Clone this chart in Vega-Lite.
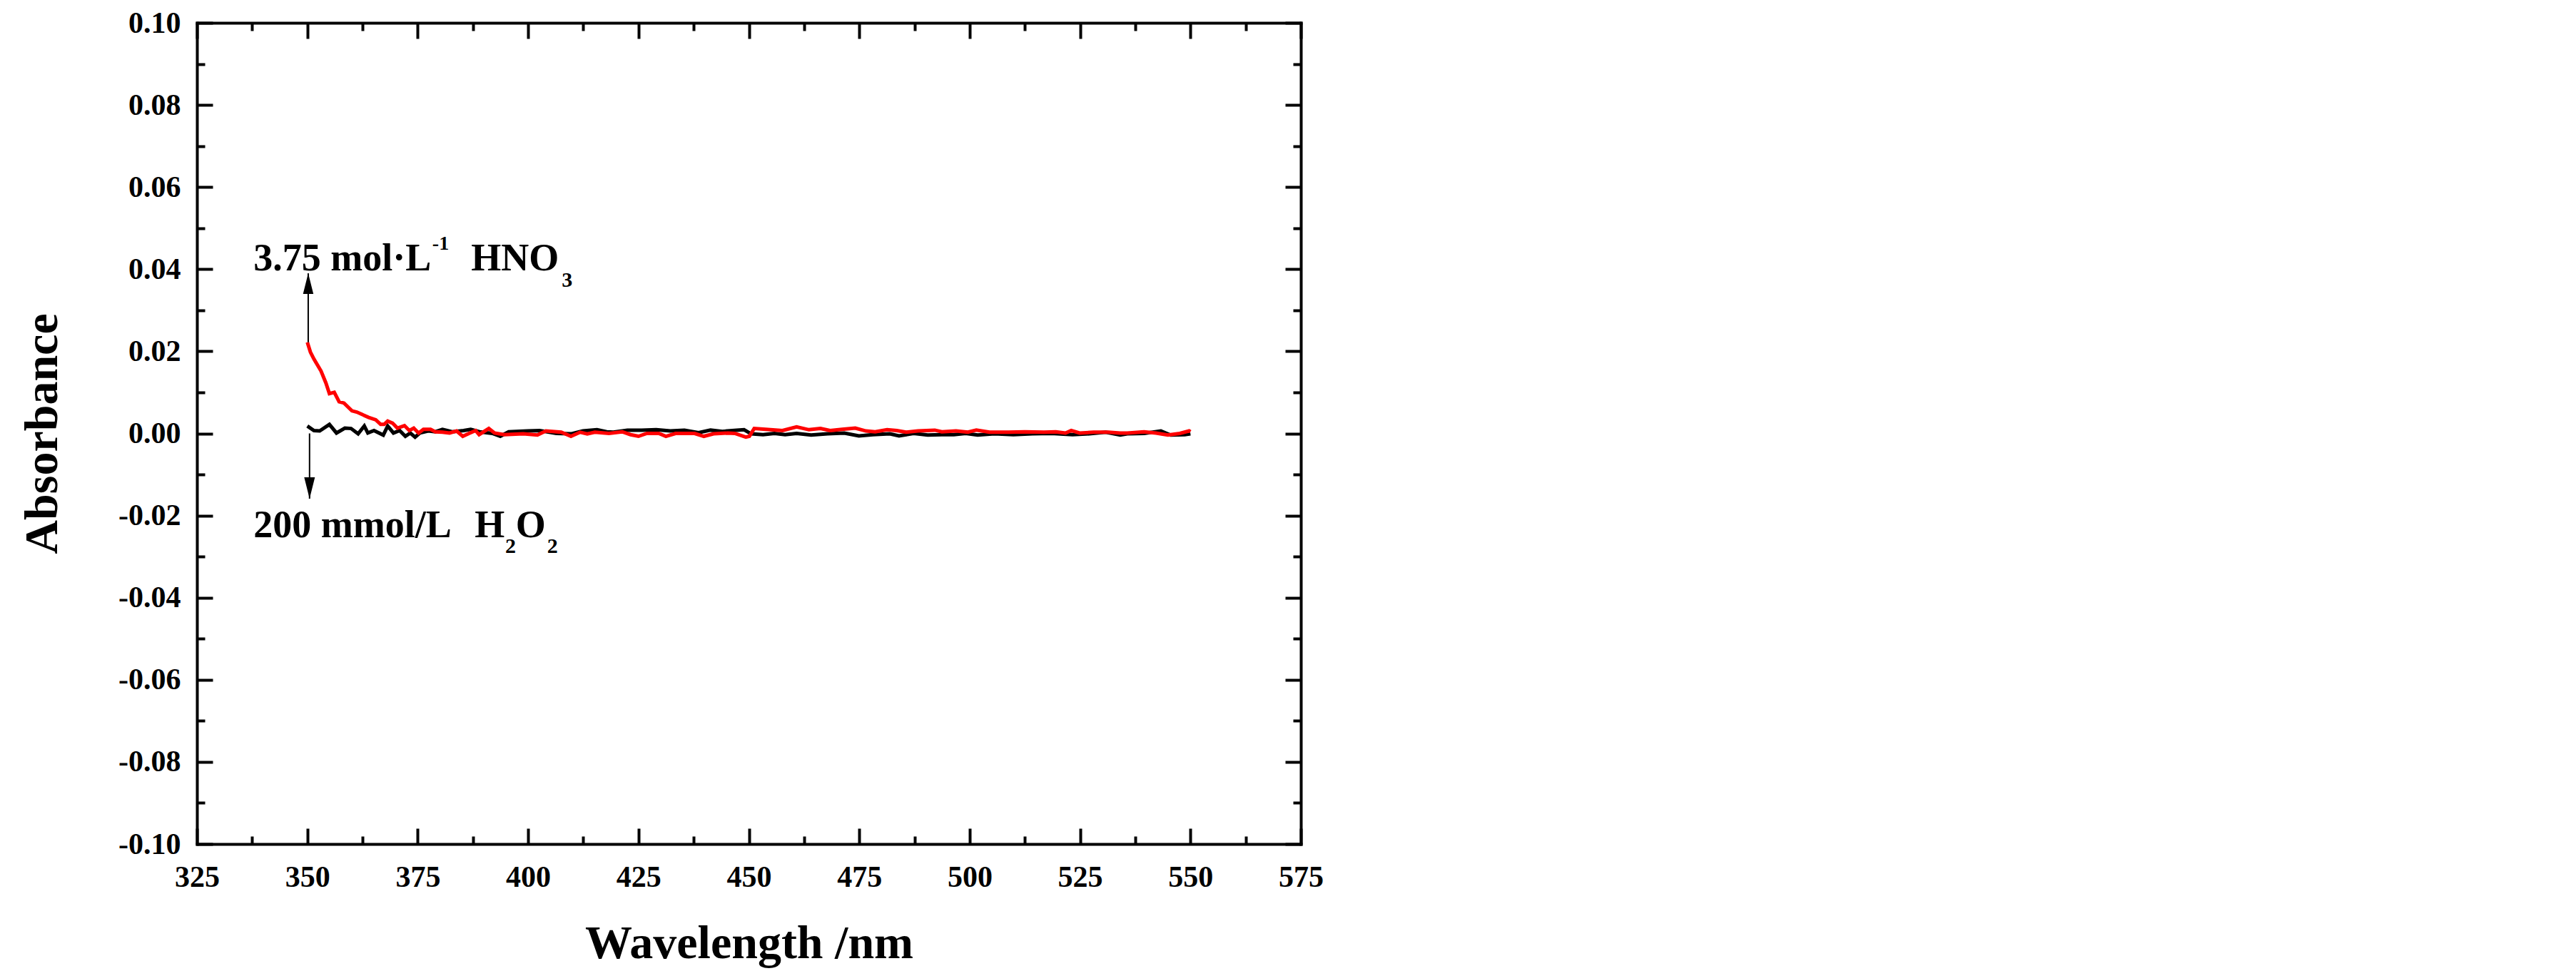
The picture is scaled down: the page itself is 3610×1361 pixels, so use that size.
{
  "$schema": "https://vega.github.io/schema/vega-lite/v6.json",
  "width": 1547,
  "height": 1151,
  "autosize": "none",
  "padding": {"left": 276, "top": 32, "right": 1787, "bottom": 178},
  "background": "white",
  "config": {
    "view": {"stroke": null},
    "axis": {
      "grid": false,
      "domainColor": "black",
      "domainWidth": 4,
      "domainCap": "square",
      "tickColor": "black",
      "tickWidth": 4,
      "labelFont": "Liberation Serif",
      "labelFontWeight": "bold",
      "labelFontSize": 42,
      "labelColor": "black",
      "titleFont": "Liberation Serif",
      "titleFontWeight": "bold",
      "titleFontSize": 66,
      "titleColor": "black"
    }
  },
  "datasets": {
    "h2o2": [
      {"wavelength": 350.0, "absorbance": 0.0018},
      {"wavelength": 351.5, "absorbance": 0.0007},
      {"wavelength": 352.8, "absorbance": 0.0006},
      {"wavelength": 355.0, "absorbance": 0.0022},
      {"wavelength": 356.6, "absorbance": 0.0001},
      {"wavelength": 358.5, "absorbance": 0.0013},
      {"wavelength": 359.9, "absorbance": 0.0012},
      {"wavelength": 361.5, "absorbance": -0.0001},
      {"wavelength": 362.9, "absorbance": 0.0018},
      {"wavelength": 363.7, "absorbance": 0.0001},
      {"wavelength": 365.1, "absorbance": 0.0007},
      {"wavelength": 367.2, "absorbance": -0.0004},
      {"wavelength": 368.2, "absorbance": 0.0018},
      {"wavelength": 369.5, "absorbance": 0.0001},
      {"wavelength": 370.9, "absorbance": 0.0007},
      {"wavelength": 372.2, "absorbance": -0.0007},
      {"wavelength": 373.3, "absorbance": 0.0001},
      {"wavelength": 374.4, "absorbance": -0.0009},
      {"wavelength": 375.5, "absorbance": 0.0001},
      {"wavelength": 377.4, "absorbance": 0.0006},
      {"wavelength": 379.0, "absorbance": 0.0004},
      {"wavelength": 380.6, "absorbance": 0.0010},
      {"wavelength": 382.8, "absorbance": 0.0004},
      {"wavelength": 385.4, "absorbance": 0.0007},
      {"wavelength": 387.0, "absorbance": 0.0010},
      {"wavelength": 389.0, "absorbance": 0.0004},
      {"wavelength": 391.9, "absorbance": 0.0000},
      {"wavelength": 393.7, "absorbance": -0.0007},
      {"wavelength": 395.6, "absorbance": 0.0004},
      {"wavelength": 399.9, "absorbance": 0.0006},
      {"wavelength": 402.6, "absorbance": 0.0007},
      {"wavelength": 406.4, "absorbance": 0.0000},
      {"wavelength": 409.7, "absorbance": -0.0001},
      {"wavelength": 412.4, "absorbance": 0.0006},
      {"wavelength": 415.6, "absorbance": 0.0009},
      {"wavelength": 417.8, "absorbance": 0.0004},
      {"wavelength": 419.3, "absorbance": 0.0003},
      {"wavelength": 422.5, "absorbance": 0.0008},
      {"wavelength": 425.7, "absorbance": 0.0008},
      {"wavelength": 429.0, "absorbance": 0.0009},
      {"wavelength": 432.2, "absorbance": 0.0006},
      {"wavelength": 435.4, "absorbance": 0.0008},
      {"wavelength": 438.6, "absorbance": 0.0002},
      {"wavelength": 441.3, "absorbance": 0.0008},
      {"wavelength": 444.0, "absorbance": 0.0005},
      {"wavelength": 447.3, "absorbance": 0.0008},
      {"wavelength": 448.9, "absorbance": 0.0009},
      {"wavelength": 450.5, "absorbance": -0.0001},
      {"wavelength": 453.2, "absorbance": -0.0003},
      {"wavelength": 455.8, "absorbance": 0.0000},
      {"wavelength": 458.2, "absorbance": -0.0003},
      {"wavelength": 460.8, "absorbance": 0.0000},
      {"wavelength": 464.1, "absorbance": -0.0004},
      {"wavelength": 467.8, "absorbance": -0.0001},
      {"wavelength": 471.6, "absorbance": 0.0001},
      {"wavelength": 474.9, "absorbance": -0.0006},
      {"wavelength": 478.1, "absorbance": -0.0003},
      {"wavelength": 481.9, "absorbance": -0.0001},
      {"wavelength": 484.0, "absorbance": -0.0006},
      {"wavelength": 487.3, "absorbance": 0.0000},
      {"wavelength": 490.5, "absorbance": -0.0004},
      {"wavelength": 493.7, "absorbance": -0.0003},
      {"wavelength": 496.4, "absorbance": -0.0003},
      {"wavelength": 499.1, "absorbance": 0.0000},
      {"wavelength": 501.8, "absorbance": -0.0004},
      {"wavelength": 505.6, "absorbance": -0.0001},
      {"wavelength": 509.9, "absorbance": -0.0003},
      {"wavelength": 514.2, "absorbance": -0.0001},
      {"wavelength": 518.5, "absorbance": 0.0000},
      {"wavelength": 523.3, "absorbance": -0.0003},
      {"wavelength": 527.1, "absorbance": -0.0001},
      {"wavelength": 530.8, "absorbance": 0.0003},
      {"wavelength": 534.1, "absorbance": -0.0004},
      {"wavelength": 535.7, "absorbance": -0.0001},
      {"wavelength": 539.5, "absorbance": 0.0000},
      {"wavelength": 543.3, "absorbance": 0.0006},
      {"wavelength": 545.5, "absorbance": -0.0004},
      {"wavelength": 548.7, "absorbance": -0.0003},
      {"wavelength": 550.0, "absorbance": -0.0001}
    ],
    "hno3": [
      {"wavelength": 350.0, "absorbance": 0.0222},
      {"wavelength": 350.7, "absorbance": 0.0198},
      {"wavelength": 351.5, "absorbance": 0.0181},
      {"wavelength": 353.1, "absorbance": 0.0152},
      {"wavelength": 354.2, "absorbance": 0.0123},
      {"wavelength": 355.0, "absorbance": 0.0097},
      {"wavelength": 356.1, "absorbance": 0.0100},
      {"wavelength": 357.2, "absorbance": 0.0077},
      {"wavelength": 358.3, "absorbance": 0.0074},
      {"wavelength": 360.1, "absorbance": 0.0055},
      {"wavelength": 361.2, "absorbance": 0.0052},
      {"wavelength": 363.9, "absorbance": 0.0039},
      {"wavelength": 365.5, "absorbance": 0.0033},
      {"wavelength": 366.6, "absorbance": 0.0022},
      {"wavelength": 367.4, "absorbance": 0.0022},
      {"wavelength": 368.2, "absorbance": 0.0030},
      {"wavelength": 369.3, "absorbance": 0.0025},
      {"wavelength": 370.4, "absorbance": 0.0013},
      {"wavelength": 372.0, "absorbance": 0.0019},
      {"wavelength": 373.1, "absorbance": 0.0007},
      {"wavelength": 374.1, "absorbance": 0.0013},
      {"wavelength": 375.2, "absorbance": 0.0001},
      {"wavelength": 376.3, "absorbance": 0.0010},
      {"wavelength": 377.9, "absorbance": 0.0010},
      {"wavelength": 379.0, "absorbance": 0.0004},
      {"wavelength": 380.6, "absorbance": 0.0003},
      {"wavelength": 382.2, "absorbance": 0.0001},
      {"wavelength": 383.8, "absorbance": 0.0006},
      {"wavelength": 385.2, "absorbance": -0.0007},
      {"wavelength": 386.8, "absorbance": 0.0001},
      {"wavelength": 388.1, "absorbance": 0.0007},
      {"wavelength": 388.9, "absorbance": -0.0003},
      {"wavelength": 391.1, "absorbance": 0.0012},
      {"wavelength": 392.4, "absorbance": 0.0001},
      {"wavelength": 394.6, "absorbance": -0.0003},
      {"wavelength": 398.9, "absorbance": -0.0001},
      {"wavelength": 402.1, "absorbance": -0.0004},
      {"wavelength": 404.0, "absorbance": 0.0006},
      {"wavelength": 407.5, "absorbance": 0.0003},
      {"wavelength": 409.7, "absorbance": -0.0007},
      {"wavelength": 411.8, "absorbance": 0.0003},
      {"wavelength": 413.4, "absorbance": -0.0001},
      {"wavelength": 415.1, "absorbance": 0.0003},
      {"wavelength": 418.3, "absorbance": 0.0000},
      {"wavelength": 421.3, "absorbance": 0.0004},
      {"wavelength": 423.2, "absorbance": -0.0003},
      {"wavelength": 425.0, "absorbance": -0.0007},
      {"wavelength": 426.9, "absorbance": 0.0000},
      {"wavelength": 429.6, "absorbance": 0.0000},
      {"wavelength": 431.2, "absorbance": -0.0007},
      {"wavelength": 433.4, "absorbance": 0.0000},
      {"wavelength": 437.7, "absorbance": 0.0000},
      {"wavelength": 439.8, "absorbance": -0.0007},
      {"wavelength": 442.0, "absorbance": -0.0001},
      {"wavelength": 445.2, "absorbance": 0.0001},
      {"wavelength": 446.8, "absorbance": 0.0000},
      {"wavelength": 449.3, "absorbance": -0.0009},
      {"wavelength": 450.1, "absorbance": -0.0007},
      {"wavelength": 451.2, "absorbance": 0.0012},
      {"wavelength": 453.8, "absorbance": 0.0010},
      {"wavelength": 457.6, "absorbance": 0.0007},
      {"wavelength": 460.8, "absorbance": 0.0016},
      {"wavelength": 463.6, "absorbance": 0.0009},
      {"wavelength": 466.2, "absorbance": 0.0012},
      {"wavelength": 468.4, "absorbance": 0.0007},
      {"wavelength": 471.1, "absorbance": 0.0010},
      {"wavelength": 474.1, "absorbance": 0.0013},
      {"wavelength": 476.5, "absorbance": 0.0006},
      {"wavelength": 478.6, "absorbance": 0.0004},
      {"wavelength": 481.3, "absorbance": 0.0009},
      {"wavelength": 483.5, "absorbance": 0.0007},
      {"wavelength": 485.6, "absorbance": 0.0003},
      {"wavelength": 488.3, "absorbance": 0.0006},
      {"wavelength": 492.1, "absorbance": 0.0008},
      {"wavelength": 493.7, "absorbance": 0.0004},
      {"wavelength": 496.9, "absorbance": 0.0006},
      {"wavelength": 499.6, "absorbance": 0.0003},
      {"wavelength": 501.5, "absorbance": 0.0008},
      {"wavelength": 504.5, "absorbance": 0.0003},
      {"wavelength": 508.8, "absorbance": 0.0003},
      {"wavelength": 512.5, "absorbance": 0.0004},
      {"wavelength": 516.8, "absorbance": 0.0003},
      {"wavelength": 519.5, "absorbance": 0.0004},
      {"wavelength": 521.7, "absorbance": 0.0001},
      {"wavelength": 523.0, "absorbance": 0.0007},
      {"wavelength": 524.9, "absorbance": 0.0001},
      {"wavelength": 528.1, "absorbance": 0.0003},
      {"wavelength": 531.4, "absorbance": 0.0003},
      {"wavelength": 534.1, "absorbance": 0.0001},
      {"wavelength": 535.7, "absorbance": 0.0001},
      {"wavelength": 539.5, "absorbance": 0.0004},
      {"wavelength": 542.2, "absorbance": 0.0001},
      {"wavelength": 544.9, "absorbance": -0.0004},
      {"wavelength": 547.6, "absorbance": 0.0000},
      {"wavelength": 549.7, "absorbance": 0.0006},
      {"wavelength": 550.0, "absorbance": 0.0004}
    ],
    "arrows": [
      {"wavelength": 350.2, "from": 0.0222, "to": 0.039},
      {"wavelength": 350.5, "from": 0.0, "to": -0.0159}
    ],
    "mainText": [
      {"wavelength": 337.8, "absorbance": 0.0397, "text": "3.75 mol·L"},
      {"wavelength": 387.1, "absorbance": 0.0397, "text": "HNO"},
      {"wavelength": 337.8, "absorbance": -0.0253, "text": "200 mmol/L"},
      {"wavelength": 387.9, "absorbance": -0.0253, "text": "H"},
      {"wavelength": 397.2, "absorbance": -0.0253, "text": "O"}
    ],
    "supText": [
      {"wavelength": 378.3, "absorbance": 0.0447, "text": "-1"}
    ],
    "subText": [
      {"wavelength": 407.6, "absorbance": 0.0357, "text": "3"},
      {"wavelength": 394.8, "absorbance": -0.0291, "text": "2"},
      {"wavelength": 404.3, "absorbance": -0.0291, "text": "2"}
    ]
  },
  "layer": [
    {
      "data": {"name": "h2o2"},
      "mark": {"type": "line", "color": "black", "strokeWidth": 5},
      "encoding": {
        "x": {
          "field": "wavelength", "type": "quantitative",
          "scale": {"domain": [325, 575], "nice": false, "zero": false},
          "axis": {
            "orient": "bottom", "title": "Wavelength /nm",
            "values": [325, 350, 375, 400, 425, 450, 475, 500, 525, 550, 575],
            "tickSize": -22, "labelPadding": 48, "titlePadding": 40,
            "labelFlush": false, "labelOverlap": false
          }
        },
        "y": {
          "field": "absorbance", "type": "quantitative",
          "scale": {"domain": [-0.1, 0.1], "nice": false, "zero": false},
          "axis": {
            "orient": "left", "title": "Absorbance",
            "values": [-0.1, -0.08, -0.06, -0.04, -0.02, 0, 0.02, 0.04, 0.06, 0.08, 0.1],
            "labelExpr": "(datum.value < -0.000001 ? '-' : '') + format(abs(datum.value), '.2f')",
            "tickSize": -22, "labelPadding": 45, "titlePadding": 72,
            "labelFlush": false, "labelOverlap": false
          }
        }
      }
    },
    {
      "data": {"name": "hno3"},
      "mark": {"type": "line", "color": "#ff0000", "strokeWidth": 5},
      "encoding": {
        "x": {
          "field": "wavelength", "type": "quantitative",
          "axis": {
            "orient": "bottom", "title": null, "labels": false, "domain": false,
            "values": [337.5, 362.5, 387.5, 412.5, 437.5, 462.5, 487.5, 512.5, 537.5, 562.5],
            "tickSize": -11
          }
        },
        "y": {
          "field": "absorbance", "type": "quantitative",
          "axis": {
            "orient": "left", "title": null, "labels": false, "domain": false,
            "values": [-0.09, -0.07, -0.05, -0.03, -0.01, 0.01, 0.03, 0.05, 0.07, 0.09],
            "tickSize": -11
          }
        }
      }
    },
    {
      "data": {"name": "h2o2"},
      "mark": {"type": "point", "opacity": 0},
      "encoding": {
        "x": {
          "field": "wavelength", "type": "quantitative",
          "axis": {
            "orient": "top", "title": null, "labels": false,
            "values": [325, 350, 375, 400, 425, 450, 475, 500, 525, 550, 575],
            "tickSize": -22
          }
        },
        "y": {
          "field": "absorbance", "type": "quantitative",
          "axis": {
            "orient": "right", "title": null, "labels": false,
            "values": [-0.1, -0.08, -0.06, -0.04, -0.02, 0, 0.02, 0.04, 0.06, 0.08, 0.1],
            "tickSize": -22
          }
        }
      }
    },
    {
      "data": {"name": "h2o2"},
      "mark": {"type": "point", "opacity": 0},
      "encoding": {
        "x": {
          "field": "wavelength", "type": "quantitative",
          "axis": {
            "orient": "top", "title": null, "labels": false, "domain": false,
            "values": [337.5, 362.5, 387.5, 412.5, 437.5, 462.5, 487.5, 512.5, 537.5, 562.5],
            "tickSize": -11
          }
        },
        "y": {
          "field": "absorbance", "type": "quantitative",
          "axis": {
            "orient": "right", "title": null, "labels": false, "domain": false,
            "values": [-0.09, -0.07, -0.05, -0.03, -0.01, 0.01, 0.03, 0.05, 0.07, 0.09],
            "tickSize": -11
          }
        }
      }
    },
    {
      "data": {"name": "arrows"},
      "mark": {"type": "rule", "color": "black", "strokeWidth": 2},
      "encoding": {
        "x": {"field": "wavelength", "type": "quantitative", "axis": null},
        "y": {"field": "from", "type": "quantitative", "axis": null},
        "y2": {"field": "to"}
      }
    },
    {
      "data": {"name": "arrows"},
      "transform": [{"filter": "datum.to > 0"}],
      "mark": {"type": "point", "shape": "M0,0L-0.5,2L0.5,2Z", "filled": true, "color": "black", "opacity": 1, "size": 841, "strokeWidth": 0},
      "encoding": {
        "x": {"field": "wavelength", "type": "quantitative", "axis": null},
        "y": {"field": "to", "type": "quantitative", "axis": null}
      }
    },
    {
      "data": {"name": "arrows"},
      "transform": [{"filter": "datum.to < 0"}],
      "mark": {"type": "point", "shape": "M0,0L-0.5,-2L0.5,-2Z", "filled": true, "color": "black", "opacity": 1, "size": 900, "strokeWidth": 0},
      "encoding": {
        "x": {"field": "wavelength", "type": "quantitative", "axis": null},
        "y": {"field": "to", "type": "quantitative", "axis": null}
      }
    },
    {
      "data": {"name": "mainText"},
      "mark": {"type": "text", "font": "Liberation Serif", "fontWeight": "bold", "fontSize": 54, "align": "left", "baseline": "alphabetic", "color": "black"},
      "encoding": {
        "x": {"field": "wavelength", "type": "quantitative", "axis": null},
        "y": {"field": "absorbance", "type": "quantitative", "axis": null},
        "text": {"field": "text"}
      }
    },
    {
      "data": {"name": "supText"},
      "mark": {"type": "text", "font": "Liberation Serif", "fontWeight": "bold", "fontSize": 28, "align": "left", "baseline": "alphabetic", "color": "black"},
      "encoding": {
        "x": {"field": "wavelength", "type": "quantitative", "axis": null},
        "y": {"field": "absorbance", "type": "quantitative", "axis": null},
        "text": {"field": "text"}
      }
    },
    {
      "data": {"name": "subText"},
      "mark": {"type": "text", "font": "Liberation Serif", "fontWeight": "bold", "fontSize": 30, "align": "left", "baseline": "alphabetic", "color": "black"},
      "encoding": {
        "x": {"field": "wavelength", "type": "quantitative", "axis": null},
        "y": {"field": "absorbance", "type": "quantitative", "axis": null},
        "text": {"field": "text"}
      }
    }
  ],
  "resolve": {"axis": {"x": "independent", "y": "independent"}}
}
